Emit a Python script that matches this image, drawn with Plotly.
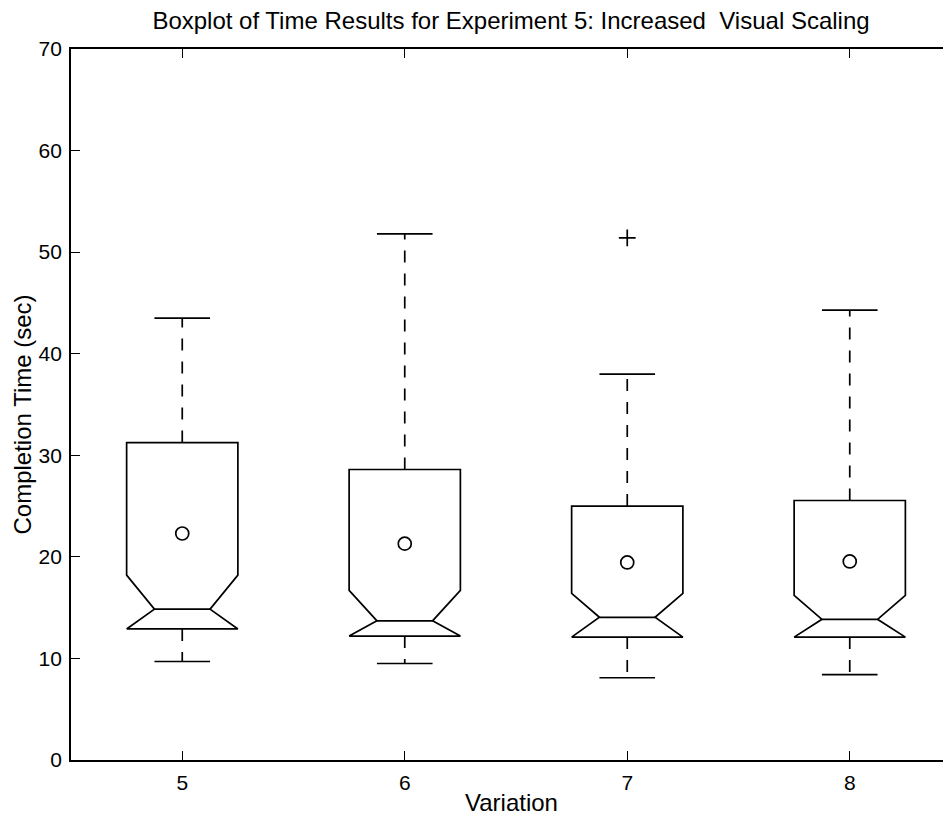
import plotly.graph_objects as go

# ---- data ----
variations = ["5", "6", "7", "8"]
positions = [1, 2, 3, 4]
lower_whisker = [9.7, 9.5, 8.1, 8.4]
q1 = [12.9, 12.2, 12.1, 12.1]
median = [14.85, 13.7, 14.05, 13.85]
notch_upper = [18.2, 16.7, 16.4, 16.2]
q3 = [31.25, 28.6, 25.0, 25.55]
upper_whisker = [43.5, 51.8, 38.0, 44.3]
means = [22.3, 21.3, 19.45, 19.55]
outlier_pos = [3]
outlier_val = [51.4]

title_text = "Boxplot of Time Results for Experiment 5: Increased  Visual Scaling"
x_title = "Variation"
y_title = "Completion Time (sec)"
y_ticks = [0, 10, 20, 30, 40, 50, 60, 70]

# ---- style ----
FONT = "Liberation Sans, Arial, Helvetica, sans-serif"
BLACK = "black"
LW = 1.7
half_w = 0.25
notch_w = 0.125
cap_w = 0.125

W, H = 943, 809          # page body has an 8px margin
ML, MT, MB = 63, 41, 57

fig = go.Figure()

for i, x in enumerate(positions):
    xs = [x - half_w, x - notch_w, x - half_w, x - half_w,
          x + half_w, x + half_w, x + notch_w, x + half_w, x - half_w]
    ys = [q1[i], median[i], notch_upper[i], q3[i],
          q3[i], notch_upper[i], median[i], q1[i], q1[i]]
    fig.add_trace(go.Scatter(x=xs, y=ys, mode="lines",
                             line=dict(color=BLACK, width=LW),
                             hoverinfo="skip", showlegend=False))
    fig.add_trace(go.Scatter(x=[x - notch_w, x + notch_w], y=[median[i], median[i]],
                             mode="lines", line=dict(color=BLACK, width=LW),
                             hoverinfo="skip", showlegend=False))
    fig.add_trace(go.Scatter(x=[x, x, None, x, x],
                             y=[q3[i], upper_whisker[i], None, q1[i], lower_whisker[i]],
                             mode="lines", line=dict(color=BLACK, width=LW, dash="12px,11px"),
                             hoverinfo="skip", showlegend=False))
    fig.add_trace(go.Scatter(x=[x - cap_w, x + cap_w, None, x - cap_w, x + cap_w],
                             y=[upper_whisker[i], upper_whisker[i], None,
                                lower_whisker[i], lower_whisker[i]],
                             mode="lines", line=dict(color=BLACK, width=LW),
                             hoverinfo="skip", showlegend=False))

fig.add_trace(go.Scatter(x=positions, y=means, mode="markers",
                         marker=dict(symbol="circle-open", size=13,
                                     color=BLACK, line=dict(width=1.7, color=BLACK)),
                         showlegend=False))
fig.add_trace(go.Scatter(x=outlier_pos, y=outlier_val, mode="markers",
                         marker=dict(symbol="cross-thin", size=12,
                                     line=dict(width=1.7, color=BLACK)),
                         showlegend=False))

fig.update_layout(
    width=W, height=H,
    margin=dict(l=ML, r=0, t=MT, b=MB, pad=0),
    paper_bgcolor="white", plot_bgcolor="white",
    font=dict(family=FONT, size=21, color=BLACK),
    title=dict(text=title_text, x=0.5, xref="paper", y=1 - 13 / H,
               yref="container", yanchor="middle", xanchor="center",
               font=dict(size=24, family=FONT)),
    showlegend=False,
    annotations=[
        dict(text=x_title, xref="paper", yref="paper", x=0.5, y=0,
             yshift=-42, xanchor="center", yanchor="middle",
             showarrow=False, font=dict(size=24, family=FONT)),
        dict(text=y_title, xref="paper", yref="paper", x=0, y=0.5,
             xshift=-49, yshift=-10, xanchor="center", yanchor="middle",
             textangle=-90, showarrow=False, font=dict(size=24, family=FONT)),
    ],
)

fig.update_xaxes(
    range=[0.5, 0.5 + 880 / 222.5],
    tickvals=positions, ticktext=variations,
    ticks="inside", ticklen=9, tickwidth=1.3, tickcolor=BLACK,
    showline=True, linecolor=BLACK, linewidth=1.8, mirror="ticks",
    showgrid=False, zeroline=False,
    tickfont=dict(size=21), ticklabelstandoff=3,
    automargin=False,
)
fig.update_yaxes(
    range=[0, 70],
    tickvals=y_ticks,
    ticks="inside", ticklen=9, tickwidth=1.3, tickcolor=BLACK,
    showline=True, linecolor=BLACK, linewidth=1.8, mirror=False,
    showgrid=False, zeroline=False,
    tickfont=dict(size=21), ticklabelstandoff=3,
    automargin=False,
)

fig.write_html("out.html")
